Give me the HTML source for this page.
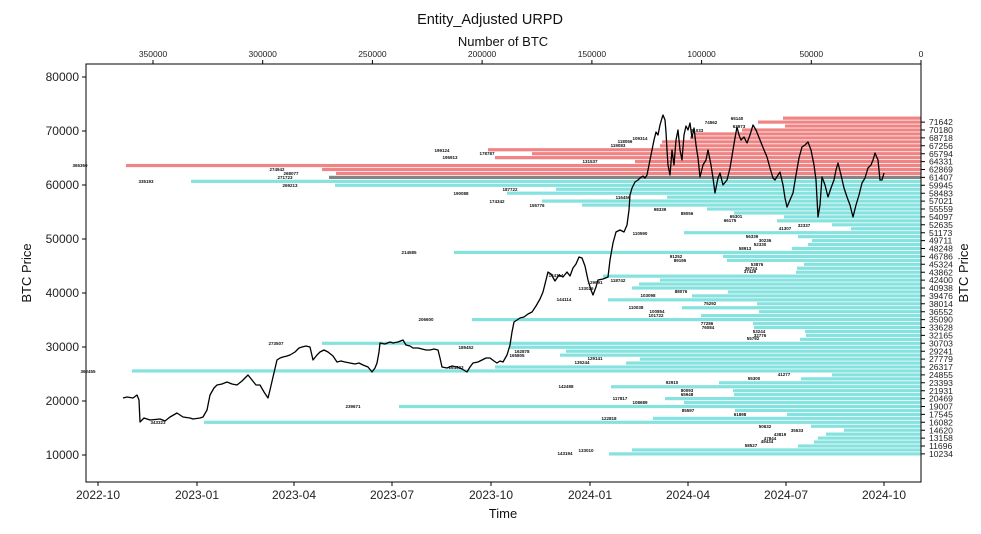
<!DOCTYPE html>
<html><head><meta charset="utf-8"><style>
html,body{margin:0;padding:0;background:#fff;}
svg{display:block;font-family:"Liberation Sans","DejaVu Sans",sans-serif;}
.sm{font-size:4.5px;font-weight:bold;fill:#111;text-anchor:middle;}
.tk{font-size:12px;fill:#222;}
.rt{font-size:8.6px;fill:#222;}
.tp{font-size:8.5px;fill:#222;text-anchor:middle;}
.r rect{fill:#f08484;}
.c rect{fill:#86e2df;}
</style></head><body>
<svg width="981" height="534" viewBox="0 0 981 534" xmlns="http://www.w3.org/2000/svg">
<rect width="981" height="534" fill="#fff"/>
<g class="r">
<rect x="783" y="116.55" width="138" height="3.2"/>
<rect x="758" y="120.5" width="163" height="3.2"/>
<rect x="785" y="124.45" width="136" height="3.2"/>
<rect x="742" y="128.4" width="179" height="3.2"/>
<rect x="695" y="132.35" width="226" height="3.2"/>
<rect x="690" y="136.3" width="231" height="3.2"/>
<rect x="662" y="140.25" width="259" height="3.2"/>
<rect x="660" y="144.2" width="261" height="3.2"/>
<rect x="488" y="148.15" width="433" height="3.2"/>
<rect x="532" y="152.1" width="389" height="3.2"/>
<rect x="495" y="156.05" width="426" height="3.2"/>
<rect x="635" y="160" width="286" height="3.2"/>
<rect x="126" y="163.95" width="795" height="3.2"/>
<rect x="322" y="167.9" width="599" height="3.2"/>
<rect x="336" y="171.85" width="585" height="3.2"/>
</g>
<rect x="329" y="175.8" width="592" height="3.2" fill="#858585"/>
<g class="c">
<rect x="191" y="179.75" width="730" height="3.2"/>
<rect x="335" y="183.7" width="586" height="3.2"/>
<rect x="556" y="187.65" width="365" height="3.2"/>
<rect x="507" y="191.6" width="414" height="3.2"/>
<rect x="667" y="195.55" width="254" height="3.2"/>
<rect x="542" y="199.5" width="379" height="3.2"/>
<rect x="582" y="203.45" width="339" height="3.2"/>
<rect x="707" y="207.4" width="214" height="3.2"/>
<rect x="734" y="211.35" width="187" height="3.2"/>
<rect x="784" y="215.3" width="137" height="3.2"/>
<rect x="777" y="219.25" width="144" height="3.2"/>
<rect x="832" y="223.2" width="89" height="3.2"/>
<rect x="851" y="227.15" width="70" height="3.2"/>
<rect x="684" y="231.1" width="237" height="3.2"/>
<rect x="798" y="235.05" width="123" height="3.2"/>
<rect x="812" y="239" width="109" height="3.2"/>
<rect x="808" y="242.95" width="113" height="3.2"/>
<rect x="792" y="246.9" width="129" height="3.2"/>
<rect x="454" y="250.85" width="467" height="3.2"/>
<rect x="723" y="254.8" width="198" height="3.2"/>
<rect x="727" y="258.75" width="194" height="3.2"/>
<rect x="804" y="262.7" width="117" height="3.2"/>
<rect x="797" y="266.65" width="124" height="3.2"/>
<rect x="796" y="270.6" width="125" height="3.2"/>
<rect x="603" y="274.55" width="318" height="3.2"/>
<rect x="660" y="278.5" width="261" height="3.2"/>
<rect x="639" y="282.45" width="282" height="3.2"/>
<rect x="632" y="286.4" width="289" height="3.2"/>
<rect x="728" y="290.35" width="193" height="3.2"/>
<rect x="692" y="294.3" width="229" height="3.2"/>
<rect x="608" y="298.25" width="313" height="3.2"/>
<rect x="757" y="302.2" width="164" height="3.2"/>
<rect x="682" y="306.15" width="239" height="3.2"/>
<rect x="759" y="310.1" width="162" height="3.2"/>
<rect x="701" y="314.05" width="220" height="3.2"/>
<rect x="472" y="318" width="449" height="3.2"/>
<rect x="753" y="321.95" width="168" height="3.2"/>
<rect x="754" y="325.9" width="167" height="3.2"/>
<rect x="805" y="329.85" width="116" height="3.2"/>
<rect x="806" y="333.8" width="115" height="3.2"/>
<rect x="800" y="337.75" width="121" height="3.2"/>
<rect x="322" y="341.7" width="599" height="3.2"/>
<rect x="509" y="345.65" width="412" height="3.2"/>
<rect x="566" y="349.6" width="355" height="3.2"/>
<rect x="560" y="353.55" width="361" height="3.2"/>
<rect x="640" y="357.5" width="281" height="3.2"/>
<rect x="626" y="361.45" width="295" height="3.2"/>
<rect x="495" y="365.4" width="426" height="3.2"/>
<rect x="132" y="369.35" width="789" height="3.2"/>
<rect x="832" y="373.3" width="89" height="3.2"/>
<rect x="801" y="377.25" width="120" height="3.2"/>
<rect x="719" y="381.2" width="202" height="3.2"/>
<rect x="611" y="385.15" width="310" height="3.2"/>
<rect x="733" y="389.1" width="188" height="3.2"/>
<rect x="734" y="393.05" width="187" height="3.2"/>
<rect x="665" y="397" width="256" height="3.2"/>
<rect x="684" y="400.95" width="237" height="3.2"/>
<rect x="399" y="404.9" width="522" height="3.2"/>
<rect x="735" y="408.85" width="186" height="3.2"/>
<rect x="787" y="412.8" width="134" height="3.2"/>
<rect x="653" y="416.75" width="268" height="3.2"/>
<rect x="204" y="420.7" width="717" height="3.2"/>
<rect x="811" y="424.65" width="110" height="3.2"/>
<rect x="844" y="428.6" width="77" height="3.2"/>
<rect x="826" y="432.55" width="95" height="3.2"/>
<rect x="818" y="436.5" width="103" height="3.2"/>
<rect x="814" y="440.45" width="107" height="3.2"/>
<rect x="798" y="444.4" width="123" height="3.2"/>
<rect x="632" y="448.35" width="289" height="3.2"/>
<rect x="609" y="452.3" width="312" height="3.2"/>
</g>
<polyline fill="none" stroke="#000" stroke-width="1.3" stroke-linejoin="round" points="123,398 127,397 133,398 137,395 139,400 140,422 144,418 150,420 160,419 165,421 170,417 177,413 183,417 190,418 193,419 200,418 203,417 207,410 210,395 214,388 217,385 222,384 227,382 232,384 237,385 242,381 248,375 252,380 256,385 260,385 264,392 268,398 270,390 273,377 277,360 280,358 283,357 287,356 290,355 295,352 299,348 302,347 306,346 310,347 313,360 317,355 320,352 324,350 328,352 333,356 337,362 341,361 345,362 350,363 355,364 359,363 363,365 368,367 372,372 375,368 377,363 379,352 380,343 385,344 390,342 393,343 398,342 403,340 406,345 410,346 413,348 418,348 422,349 426,350 430,350 434,349 438,350 440,358 442,367 447,368 452,366 457,367 462,369 467,372 470,367 473,363 478,362 482,360 486,358 490,358 494,361 497,363 500,361 503,362 507,355 510,345 512,332 514,322 517,320 520,318 524,317 528,314 532,312 536,306 540,299 543,292 546,280 548,272 551,274 555,281 559,275 563,277 567,272 570,276 573,268 576,264 579,257 582,258 585,266 588,280 591,290 593,295 596,287 598,280 603,279 608,277 610,260 613,243 616,232 620,230 624,232 627,225 629,210 630,195 632,188 635,182 638,180 640,178 643,176 645,178 647,175 650,160 652,150 654,140 656,132 658,135 660,125 662,118 663,115 665,120 666,132 667,150 668,165 670,175 672,150 674,165 676,140 678,130 680,150 682,160 684,135 686,126 688,130 690,123 692,138 694,128 696,145 698,158 700,177 703,165 706,160 708,150 711,165 713,178 715,193 718,178 720,173 723,185 727,180 730,168 733,150 735,138 737,127 739,135 741,140 744,137 747,143 750,135 753,125 756,130 760,140 764,150 767,157 770,168 773,178 775,180 778,175 780,172 783,185 785,198 787,207 790,200 793,193 796,175 799,158 802,147 805,145 808,142 811,150 814,165 816,180 818,217 820,205 822,177 825,185 828,197 831,188 834,180 836,170 838,163 841,175 844,188 847,197 850,205 853,217 856,205 859,195 862,183 865,178 868,168 871,165 873,160 875,153 878,160 880,180 882,180 884,173"/>
<rect x="86" y="64" width="835" height="418" fill="none" stroke="#000" stroke-width="1"/>
<text x="490" y="24" font-size="14.5" text-anchor="middle" fill="#111">Entity_Adjusted URPD</text>
<text x="503" y="46" font-size="13" text-anchor="middle" fill="#111">Number of BTC</text>
<text x="503" y="518" font-size="13" text-anchor="middle" fill="#111">Time</text>
<text transform="translate(31,273) rotate(-90)" font-size="13" text-anchor="middle" fill="#111">BTC Price</text>
<text transform="translate(968,273) rotate(-90)" font-size="13" text-anchor="middle" fill="#111">BTC Price</text>
<path stroke="#000" stroke-width="1" d="M921 64V60M811.3 64V60M701.6 64V60M591.9 64V60M482.1 64V60M372.4 64V60M262.7 64V60M153 64V60"/>
<text class="tp" x="921" y="57">0</text><text class="tp" x="811.3" y="57">50000</text><text class="tp" x="701.6" y="57">100000</text><text class="tp" x="591.9" y="57">150000</text><text class="tp" x="482.1" y="57">200000</text><text class="tp" x="372.4" y="57">250000</text><text class="tp" x="262.7" y="57">300000</text><text class="tp" x="153" y="57">350000</text>
<path stroke="#000" stroke-width="1" d="M82 77H86M82 131H86M82 185H86M82 239H86M82 293H86M82 347H86M82 401H86M82 455H86"/>
<g class="tk" text-anchor="end">
<text x="79" y="81">80000</text><text x="79" y="135">70000</text><text x="79" y="189">60000</text><text x="79" y="243">50000</text><text x="79" y="297">40000</text><text x="79" y="351">30000</text><text x="79" y="405">20000</text><text x="79" y="459">10000</text>
</g>
<path stroke="#000" stroke-width="1" d="M98 482V486M197 482V486M294 482V486M392 482V486M491 482V486M590 482V486M688 482V486M786 482V486M884 482V486"/>
<g class="tk" text-anchor="middle">
<text x="98" y="499">2022-10</text><text x="197" y="499">2023-01</text><text x="294" y="499">2023-04</text><text x="392" y="499">2023-07</text><text x="491" y="499">2023-10</text><text x="590" y="499">2024-01</text><text x="688" y="499">2024-04</text><text x="786" y="499">2024-07</text><text x="884" y="499">2024-10</text>
</g>
<path stroke="#000" stroke-width="1" d="M921 122.1h4M921 130h4M921 137.9h4M921 145.8h4M921 153.7h4M921 161.6h4M921 169.5h4M921 177.4h4M921 185.3h4M921 193.2h4M921 201.1h4M921 209h4M921 216.9h4M921 224.8h4M921 232.7h4M921 240.6h4M921 248.5h4M921 256.4h4M921 264.3h4M921 272.2h4M921 280.1h4M921 288h4M921 295.9h4M921 303.8h4M921 311.7h4M921 319.6h4M921 327.5h4M921 335.4h4M921 343.3h4M921 351.2h4M921 359.1h4M921 367h4M921 374.9h4M921 382.8h4M921 390.7h4M921 398.6h4M921 406.5h4M921 414.4h4M921 422.3h4M921 430.2h4M921 438.1h4M921 446h4M921 453.9h4"/>
<g class="rt">
<text x="929" y="125.2">71642</text><text x="929" y="133.1">70180</text><text x="929" y="141">68718</text><text x="929" y="148.9">67256</text><text x="929" y="156.8">65794</text><text x="929" y="164.7">64331</text><text x="929" y="172.6">62869</text><text x="929" y="180.5">61407</text><text x="929" y="188.4">59945</text><text x="929" y="196.3">58483</text><text x="929" y="204.2">57021</text><text x="929" y="212.1">55559</text><text x="929" y="220">54097</text><text x="929" y="227.9">52635</text><text x="929" y="235.8">51173</text><text x="929" y="243.7">49711</text><text x="929" y="251.6">48248</text><text x="929" y="259.5">46786</text><text x="929" y="267.4">45324</text><text x="929" y="275.3">43862</text><text x="929" y="283.2">42400</text><text x="929" y="291.1">40938</text><text x="929" y="299">39476</text><text x="929" y="306.9">38014</text><text x="929" y="314.8">36552</text><text x="929" y="322.7">35090</text><text x="929" y="330.6">33628</text><text x="929" y="338.5">32165</text><text x="929" y="346.4">30703</text><text x="929" y="354.3">29241</text><text x="929" y="362.2">27779</text><text x="929" y="370.1">26317</text><text x="929" y="378">24855</text><text x="929" y="385.9">23393</text><text x="929" y="393.8">21931</text><text x="929" y="401.7">20469</text><text x="929" y="409.6">19007</text><text x="929" y="417.5">17545</text><text x="929" y="425.4">16082</text><text x="929" y="433.3">14620</text><text x="929" y="441.2">13158</text><text x="929" y="449.1">11696</text><text x="929" y="457">10234</text>
</g>
<g class="sm">
<text x="80" y="167">365360</text><text x="277" y="171">274942</text><text x="291" y="175">268077</text><text x="285" y="179">271723</text><text x="146" y="183">335193</text><text x="290" y="187">269213</text>
<text x="442" y="152">199124</text><text x="450" y="159">195913</text><text x="487" y="155">178787</text><text x="590" y="163">131537</text><text x="625" y="143">118056</text><text x="618" y="147">119083</text><text x="640" y="140">109314</text><text x="711" y="124">74562</text><text x="737" y="120">65140</text><text x="739" y="128">63973</text><text x="697" y="132">81033</text>
<text x="510" y="191">187722</text><text x="461" y="195">190088</text><text x="623" y="199">116456</text><text x="497" y="203">174342</text><text x="537" y="207">155776</text><text x="660" y="211">98339</text><text x="687" y="215">88056</text><text x="736" y="218">65301</text><text x="730" y="222">66175</text><text x="785" y="230">41307</text><text x="804" y="227">32337</text><text x="640" y="235">110590</text>
<text x="409" y="254">214585</text><text x="752" y="238">56339</text><text x="765" y="242">30236</text><text x="760" y="246">52330</text><text x="745" y="250">58913</text><text x="676" y="258">91252</text><text x="680" y="262">89195</text><text x="757" y="266">53876</text><text x="751" y="270">36724</text><text x="750" y="273">37429</text>
<text x="556" y="277">144114</text><text x="595" y="284">129691</text><text x="586" y="290">133026</text><text x="618" y="282">118742</text><text x="681" y="293">88076</text><text x="648" y="297">103098</text><text x="564" y="301">144114</text><text x="710" y="305">75292</text><text x="636" y="309">110038</text><text x="657" y="313">100854</text><text x="656" y="317">101722</text>
<text x="426" y="321">206600</text><text x="707" y="325">77286</text><text x="708" y="329">76084</text><text x="759" y="333">53244</text><text x="760" y="337">32776</text><text x="753" y="340">55792</text><text x="276" y="345">273507</text><text x="466" y="349">189452</text><text x="522" y="353">162878</text><text x="517" y="357">165805</text><text x="595" y="360">129141</text><text x="582" y="364">135244</text><text x="456" y="369">164503</text>
<text x="88" y="373">362455</text><text x="784" y="376">41277</text><text x="754" y="380">55300</text><text x="672" y="384">92910</text><text x="566" y="388">142498</text><text x="687" y="392">80093</text><text x="687" y="396">65948</text><text x="620" y="400">117817</text><text x="640" y="404">108689</text><text x="353" y="408">239671</text><text x="688" y="412">85597</text><text x="740" y="416">61898</text><text x="609" y="420">122818</text><text x="158" y="424">343323</text>
<text x="765" y="428">50632</text><text x="797" y="432">35533</text><text x="780" y="436">43819</text><text x="770" y="440">47844</text><text x="767" y="443">49434</text><text x="751" y="447">58527</text><text x="586" y="452">133010</text><text x="565" y="455">143194</text>
</g>
</svg>
</body></html>
